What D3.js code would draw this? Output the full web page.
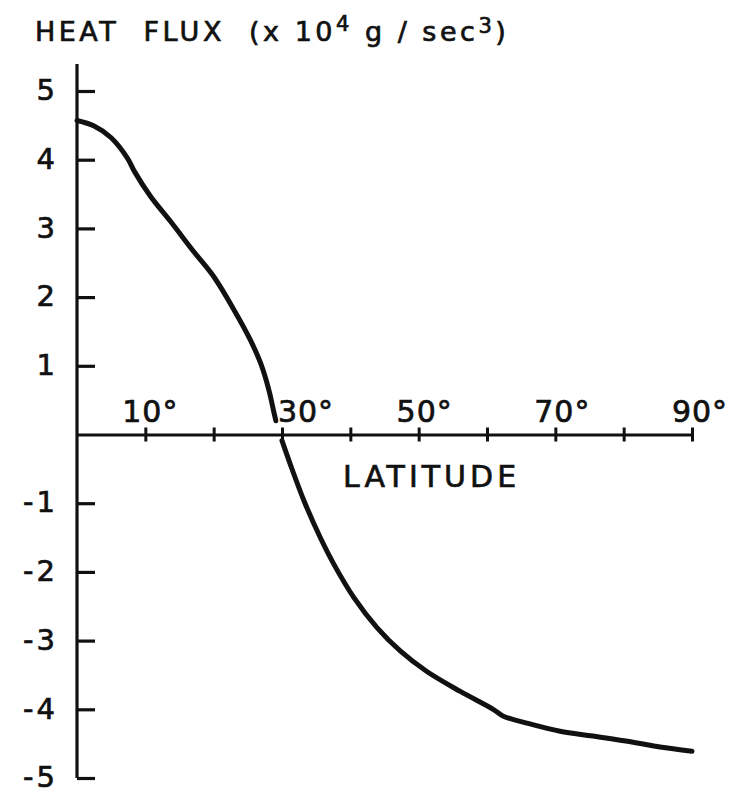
<!DOCTYPE html>
<html>
<head>
<meta charset="utf-8">
<script src="https://cdn.jsdelivr.net/npm/d3@7"></script>
<style>
  body { margin: 0; background: #fff; }
  text { font-family: "DejaVu Sans", sans-serif; fill: #111; stroke: #111; stroke-width: 0.7px; }
</style>
</head>
<body>
<div id="chart"></div>
<script>

// latitude (deg) and heat flux (x 10^4 g/sec^3)
// null = small break in the printed curve where it crosses the axis
var latitude = [0, 2.5, 5, 7.4, 8.4, 10.8, 13.7, 17.1, 20, 23, 25.4, 26.9, 28.1, 28.8, 29.1,
  29.5,
  30.0, 31.2, 33.2, 35.6, 37.6, 40.5, 43.9, 47.3, 51.2, 56.1, 60.9, 62.4, 65.8, 70.7, 75.5, 81.4, 85.3, 90]
var heatFlux = [4.57, 4.49, 4.32, 4.02, 3.83, 3.46, 3.10, 2.66, 2.30, 1.81, 1.37, 1.03, 0.64, 0.33, 0.20,
  null,
  -0.09, -0.43, -0.96, -1.50, -1.89, -2.37, -2.81, -3.15, -3.45, -3.74, -4.00, -4.10, -4.20, -4.32, -4.39, -4.48, -4.55, -4.61]

var yTicks = [5, 4, 3, 2, 1, -1, -2, -3, -4, -5]
var xTicks = [10, 20, 30, 40, 50, 60, 70, 80, 90]
var xLabels = [10, 30, 50, 70, 90]
var xLabelShift = [5, 24, 6, 7, 8]

var width = 734, height = 794

var svg = d3.select("#chart")
  .append("svg")
  .attr("width", width)
  .attr("height", height)

var x = d3.scaleLinear()
  .domain([0, 90])
  .range([77, 692])

var y = d3.scaleLinear()
  .domain([-5, 5])
  .range([778, 91])

// y axis: long line, ticks pointing right
svg.append("line")
  .attr("x1", x(0)).attr("x2", x(0))
  .attr("y1", y(5) - 27).attr("y2", y(-5))
  .attr("stroke", "#111")
  .attr("stroke-width", 3.2)

var yAxis = svg.append("g")
  .attr("transform", "translate(" + x(0) + ",0)")
  .call(d3.axisRight(y).tickValues(yTicks).tickSize(18).tickFormat(function(d) { return d < 0 ? "-" + Math.abs(d) : d }))

yAxis.select(".domain").remove()
yAxis.selectAll(".tick line")
  .attr("stroke", "#111")
  .attr("stroke-width", 3.2)
yAxis.selectAll(".tick text")
  .attr("x", -19)
  .attr("dy", "0.3em")
  .attr("text-anchor", "end")
  .style("font-size", "29px")
  .style("letter-spacing", "3px")
  .attr("fill", "#111")

// x axis along zero, ticks crossing the line
var xAxis = svg.append("g")
  .attr("transform", "translate(0," + y(0) + ")")
  .call(d3.axisBottom(x).tickValues(xTicks).tickSizeOuter(0).tickFormat(""))

xAxis.select(".domain")
  .attr("stroke", "#111")
  .attr("stroke-width", 3.2)
xAxis.selectAll(".tick line")
  .attr("y1", -7)
  .attr("y2", 7)
  .attr("stroke", "#111")
  .attr("stroke-width", 3)

svg.selectAll(".xlab")
  .data(xLabels)
  .enter().append("text")
  .attr("class", "xlab")
  .attr("x", function(d, i) { return x(d) + xLabelShift[i] })
  .attr("y", y(0) - 13)
  .attr("text-anchor", "middle")
  .style("font-size", "30px")
  .style("letter-spacing", "1px")
  .text(function(d) { return d + "°" })

svg.append("text")
  .attr("x", 343)
  .attr("y", 487)
  .style("font-size", "30px")
  .style("letter-spacing", "4px")
  .text("LATITUDE")

// title
var title = svg.append("text")
  .attr("x", 35)
  .attr("y", 41)
  .style("font-size", "27px")
  .style("letter-spacing", "3.5px")
  .style("white-space", "pre")

title.append("tspan").text("HEAT  FLUX  (x 10")
title.append("tspan").attr("dy", -10).style("font-size", "21px").text("4")
title.append("tspan").attr("dy", 10).text(" g / sec")
title.append("tspan").attr("dy", -8).style("font-size", "21px").text("3")
title.append("tspan").attr("dy", 8).text(")")

// curve
var pts = latitude.map(function(d, i) { return { lat: d, v: heatFlux[i] } })

var line = d3.line()
  .defined(function(d) { return d.v !== null })
  .x(function(d) { return x(d.lat) })
  .y(function(d) { return y(d.v) })
  .curve(d3.curveCatmullRom.alpha(0.5))

svg.append("path")
  .datum(pts)
  .attr("d", line)
  .attr("fill", "none")
  .attr("stroke", "#111")
  .attr("stroke-width", 5)
  .attr("stroke-linecap", "round")
  .attr("stroke-linejoin", "round")

</script>
</body>
</html>
